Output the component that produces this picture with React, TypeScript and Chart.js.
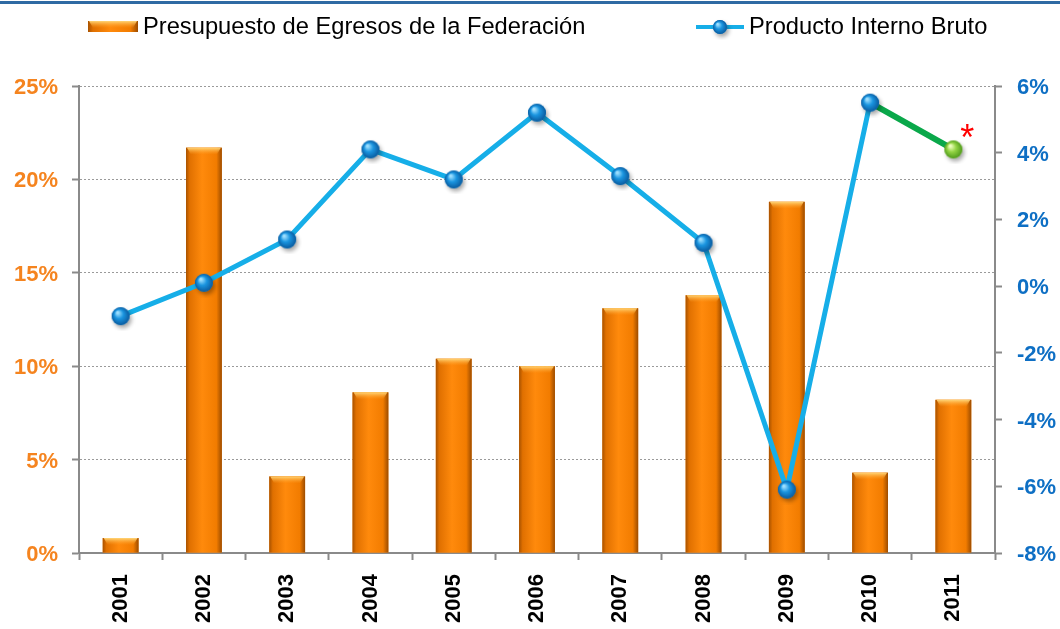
import { useEffect, useRef } from 'react';
import { Chart, registerables } from 'chart.js';

Chart.register(...registerables);

const years = ['2001', '2002', '2003', '2004', '2005', '2006', '2007', '2008', '2009', '2010', '2011'];
const budgetGrowth = [0.8, 21.7, 4.1, 8.6, 10.4, 10.0, 13.1, 13.8, 18.8, 4.3, 8.2];
const gdpGrowth = [-0.9, 0.1, 1.4, 4.1, 3.2, 5.2, 3.3, 1.3, -6.1, 5.5, 4.1];
const budgetLabel = 'Presupuesto de Egresos de la Federación';
const gdpLabel = 'Producto Interno Bruto';
const leftAxis = { min: 0, max: 25, step: 5 };
const rightAxis = { min: -8, max: 6, step: 2 };

const FONT = '"Liberation Sans", Arial, sans-serif';
const ORANGE_TEXT = '#f5841f';
const BLUE_TEXT = '#0e6fc4';
const AXIS_GREY = '#8a8a8a';

function makeSphere(light: string, mid: string, dark: string, r: number) {
  const size = r * 2 + 12;
  const c = document.createElement('canvas');
  c.width = size;
  c.height = size;
  const ctx = c.getContext('2d')!;
  const cx = size / 2;
  ctx.save();
  ctx.shadowColor = 'rgba(0,0,0,0.35)';
  ctx.shadowBlur = 4;
  ctx.shadowOffsetX = 2;
  ctx.shadowOffsetY = 3;
  ctx.beginPath();
  ctx.arc(cx, cx, r, 0, Math.PI * 2);
  ctx.fillStyle = mid;
  ctx.fill();
  ctx.restore();
  const g = ctx.createRadialGradient(cx - r * 0.35, cx - r * 0.4, r * 0.1, cx, cx, r);
  g.addColorStop(0, light);
  g.addColorStop(0.45, mid);
  g.addColorStop(1, dark);
  ctx.beginPath();
  ctx.arc(cx, cx, r, 0, Math.PI * 2);
  ctx.fillStyle = g;
  ctx.fill();
  return c;
}

function barGradient(ctx: CanvasRenderingContext2D, l: number, y: number, w: number, h: number) {
  const g = ctx.createLinearGradient(l, 0, l + w, 0);
  g.addColorStop(0, '#a85200');
  g.addColorStop(0.1, '#e07000');
  g.addColorStop(0.45, '#ff8a0c');
  g.addColorStop(0.85, '#f27c00');
  g.addColorStop(1, '#9c4c00');
  ctx.fillStyle = g;
  ctx.fillRect(l, y, w, h);
  const capH = Math.min(7, h);
  const g2 = ctx.createLinearGradient(0, y, 0, y + capH);
  g2.addColorStop(0, 'rgba(255,214,120,1)');
  g2.addColorStop(1, 'rgba(255,160,40,0)');
  ctx.fillStyle = g2;
  ctx.beginPath();
  ctx.moveTo(l + 1, y);
  ctx.lineTo(l + w - 1, y);
  ctx.lineTo(l + w - 5, y + capH);
  ctx.lineTo(l + 5, y + capH);
  ctx.closePath();
  ctx.fill();
}

export default function App() {
  const ref = useRef<HTMLCanvasElement | null>(null);

  useEffect(() => {
    if (!ref.current) return;
    const blueSphere = makeSphere('#9fe0ff', '#1a95e0', '#0a5a9e', 9);
    const greenSphere = makeSphere('#efffc0', '#93d444', '#4f9a1c', 9);
    const legendSphere = makeSphere('#9fe0ff', '#1a95e0', '#0a5a9e', 7);

    const decor = {
      id: 'decor',
      beforeDraw(chart: any) {
        const ctx = chart.ctx;
        ctx.save();
        ctx.fillStyle = '#2e6aa3';
        ctx.fillRect(0, 1, 1060, 3);
        barGradient(ctx, 88, 21, 50, 11);
        ctx.fillStyle = '#000';
        ctx.font = `23.7px ${FONT}`;
        ctx.textBaseline = 'middle';
        ctx.textAlign = 'left';
        ctx.fillText(budgetLabel, 143, 27);
        ctx.strokeStyle = '#16aee8';
        ctx.lineWidth = 4;
        ctx.beginPath();
        ctx.moveTo(696, 27);
        ctx.lineTo(744, 27);
        ctx.stroke();
        ctx.drawImage(legendSphere, 720 - legendSphere.width / 2, 27 - legendSphere.height / 2);
        ctx.fillStyle = '#000';
        ctx.fillText(gdpLabel, 749, 27);
        ctx.restore();
      },
      afterDatasetDraw(chart: any, args: any) {
        if (args.meta.type !== 'bar') return;
        const ctx = chart.ctx;
        ctx.save();
        args.meta.data.forEach((el: any) => {
          const p = el.getProps(['x', 'y', 'base', 'width'], true);
          barGradient(ctx, p.x - p.width / 2, p.y, p.width, p.base - p.y);
        });
        ctx.restore();
      },
      afterDatasetsDraw(chart: any) {
        const meta = chart.getDatasetMeta(0);
        const last = meta.data[meta.data.length - 1];
        if (!last) return;
        const ctx = chart.ctx;
        ctx.save();
        ctx.fillStyle = '#ff0000';
        ctx.font = `36px ${FONT}`;
        ctx.textAlign = 'center';
        ctx.textBaseline = 'alphabetic';
        ctx.fillText('*', last.x + 14, last.y + 1);
        ctx.restore();
      },
    };

    const lastIdx = gdpGrowth.length - 1;
    const chart = new Chart(ref.current, {
      type: 'bar',
      data: {
        labels: years,
        datasets: [
          {
            type: 'line',
            label: gdpLabel,
            data: gdpGrowth,
            yAxisID: 'y1',
            order: 0,
            borderColor: '#16aee8',
            borderWidth: 5,
            tension: 0,
            pointStyle: gdpGrowth.map((_, i) => (i === lastIdx ? greenSphere : blueSphere)) as any,
            pointRadius: 9,
            segment: {
              borderColor: (c: any) => (c.p1DataIndex === lastIdx ? '#0aa84a' : '#16aee8'),
              borderWidth: (c: any) => (c.p1DataIndex === lastIdx ? 6 : 5),
            },
          } as any,
          {
            type: 'bar',
            label: budgetLabel,
            data: budgetGrowth,
            yAxisID: 'y',
            order: 1,
            backgroundColor: '#f5820a',
            borderWidth: 0,
            barPercentage: 0.43,
            categoryPercentage: 1,
          },
        ],
      },
      options: {
        responsive: false,
        animation: false,
        layout: { padding: { top: 86, left: 0, right: 0, bottom: 0 } },
        plugins: { legend: { display: false }, tooltip: { enabled: false } },
        scales: {
          x: {
            offset: true,
            grid: {
              offset: true,
              drawOnChartArea: false,
              drawTicks: true,
              tickLength: 7,
              tickColor: AXIS_GREY,
              tickWidth: 2,
            },
            border: { color: AXIS_GREY, width: 2 },
            ticks: {
              minRotation: 90,
              maxRotation: 90,
              padding: 14,
              color: '#000',
              font: { family: FONT, size: 22, weight: 'bold' },
            },
            afterFit: (s: any) => {
              s.height = 76;
            },
          },
          y: {
            position: 'left',
            min: leftAxis.min,
            max: leftAxis.max,
            grid: {
              color: '#9a9a9a',
              lineWidth: 1,
              tickLength: 7,
              tickColor: AXIS_GREY,
              tickWidth: 2,
              tickBorderDash: [],
            },
            border: { color: AXIS_GREY, width: 2, dash: [2, 2] },
            ticks: {
              stepSize: leftAxis.step,
              padding: 14,
              labelOffset: 2,
              color: ORANGE_TEXT,
              font: { family: FONT, size: 22, weight: 'bold' },
              callback: (v: any) => `${v}%`,
            },
            afterFit: (s: any) => {
              s.width = 79;
            },
          },
          y1: {
            position: 'right',
            min: rightAxis.min,
            max: rightAxis.max,
            grid: {
              drawOnChartArea: false,
              tickLength: 7,
              tickColor: AXIS_GREY,
              tickWidth: 2,
            },
            border: { color: AXIS_GREY, width: 2 },
            ticks: {
              stepSize: rightAxis.step,
              padding: 15,
              labelOffset: 2,
              color: BLUE_TEXT,
              font: { family: FONT, size: 22, weight: 'bold' },
              callback: (v: any) => `${v}%`,
            },
            afterFit: (s: any) => {
              s.width = 65;
            },
          },
        },
      },
      plugins: [decor],
    });
    return () => chart.destroy();
  }, []);

  return (
    <div style={{ position: 'absolute', left: 0, top: 0, width: 1060, height: 629, background: '#fff' }}>
      <canvas ref={ref} width={1060} height={629} style={{ display: 'block' }} />
    </div>
  );
}
